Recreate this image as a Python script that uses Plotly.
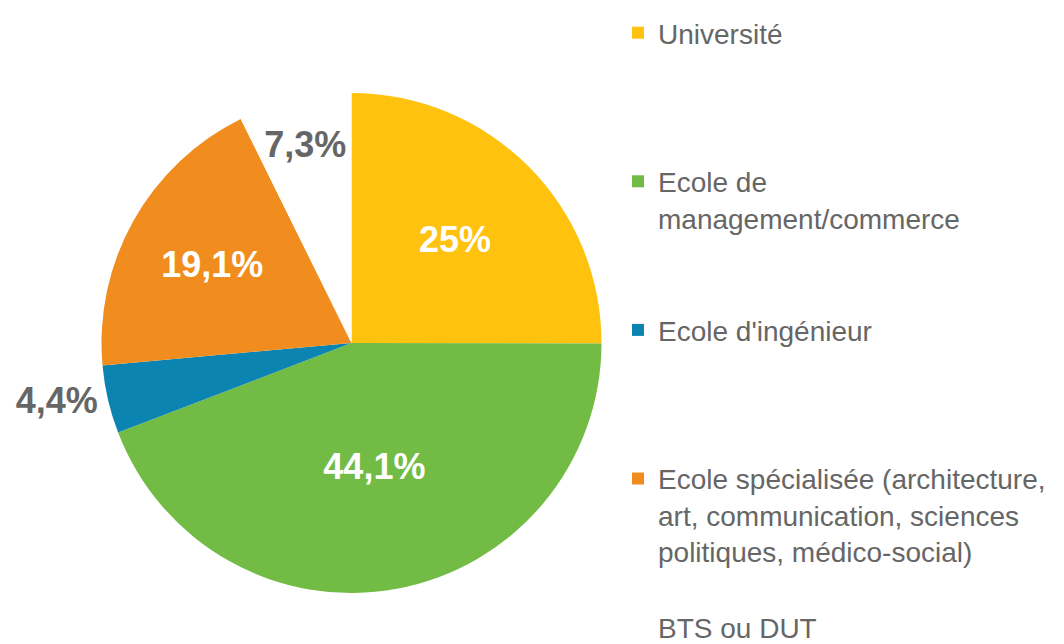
import plotly.graph_objects as go

categories = [
    "Université",
    "Ecole de<br>management/commerce",
    "Ecole d'ingénieur",
    "Ecole spécialisée (architecture,<br>art, communication, sciences<br>politiques, médico-social)",
    "BTS ou DUT",
]
values = [25, 44.1, 4.4, 19.1, 7.3]
colors = ["#FFC20E", "#72BB44", "#0C84B2", "#F18D1E", "#FFFFFF"]
label_colors = ["#FFFFFF", "#FFFFFF", "#666666", "#FFFFFF", "#666666"]
text_positions = ["inside", "inside", "outside", "inside", "inside"]

# pad legend entries to 4 lines so entries are evenly spaced like the original
legend_names = []
for c in categories[:-1]:
    n = c.count("<br>") + 1
    legend_names.append(c + "<br> " * (4 - n))
legend_names.append(categories[-1])

texts = [f"{v:g}".replace(".", ",") + "%" for v in values]

FONT = "Liberation Sans"

fig = go.Figure(go.Pie(
    labels=legend_names,
    values=values,
    text=texts,
    textinfo="text",
    textposition=text_positions,
    insidetextorientation="horizontal",
    sort=False,
    direction="clockwise",
    rotation=0,
    marker=dict(colors=colors, line=dict(width=0)),
    textfont=dict(family=FONT, size=36, color=label_colors),
    insidetextfont=dict(family=FONT, size=36, color=label_colors),
    outsidetextfont=dict(family=FONT, size=36, color=label_colors),
    texttemplate="<b>%{text}</b>",
    automargin=False,
    domain=dict(x=[93.5/1064, 593.5/1064], y=[59/644, 559/644]),
    hoverinfo="label+percent",
))

fig.update_layout(
    width=1064, height=644,
    margin=dict(l=0, r=0, t=0, b=0),
    paper_bgcolor="white",
    plot_bgcolor="white",
    showlegend=True,
    legend=dict(
        x=610/1064, xanchor="left",
        y=1.0, yanchor="top",
        valign="top",
        maxheight=760,
        font=dict(family=FONT, size=28, color="#666666"),
        bgcolor="rgba(0,0,0,0)",
    ),
)

fig.write_html("out.html")
